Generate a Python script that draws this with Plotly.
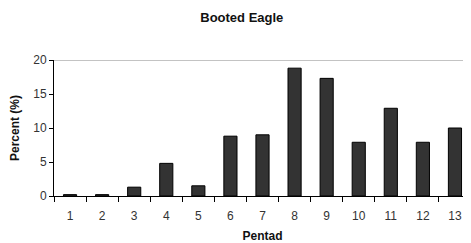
import plotly.graph_objects as go

pentads = ["1", "2", "3", "4", "5", "6", "7", "8", "9", "10", "11", "12", "13"]
percent = [0.2, 0.2, 1.3, 4.8, 1.5, 8.8, 9.0, 18.8, 17.3, 7.9, 12.9, 7.9, 10.0]

fig = go.Figure(go.Bar(
    x=pentads, y=percent,
    marker=dict(color="#333333", line=dict(color="#000000", width=1)),
))

# page body has an 8px margin, so the figure is sized/offset to compensate
fig.update_layout(
    width=463, height=235,
    margin=dict(l=46, r=0, t=52, b=47, autoexpand=False),
    paper_bgcolor="white", plot_bgcolor="white",
    bargap=0.59,
    showlegend=False,
    font=dict(family="Liberation Sans, Arial", color="#333333", size=12),
    title=dict(text="<b>Booted Eagle</b>", x=0.505, xanchor="center", y=1 - 9 / 235, yanchor="middle",
               font=dict(size=13, color="#111111")),
)
fig.update_xaxes(
    type="category", tickson="boundaries", ticks="outside", ticklen=5, tickcolor="black",
    showline=True, linecolor="black", linewidth=1, showgrid=False, automargin=False,
    tickfont=dict(color="#333333", size=12), ticklabelstandoff=9,
    title=dict(text="<b>Pentad</b>", standoff=9, font=dict(size=12, color="#111111")),
)
fig.update_yaxes(
    range=[0, 20], dtick=5, ticks="outside", ticklen=4, tickcolor="black",
    showline=True, linecolor="black", linewidth=1, showgrid=False, zeroline=False,
    automargin=False, tickfont=dict(color="#333333", size=12),
    title=dict(text="<b>Percent (%)</b>", standoff=12, font=dict(size=12, color="#111111")),
)
fig.add_shape(type="line", xref="paper", yref="y", x0=0, x1=1, y0=20, y1=20,
              line=dict(color="#888888", width=1))

fig.write_html("out.html")
